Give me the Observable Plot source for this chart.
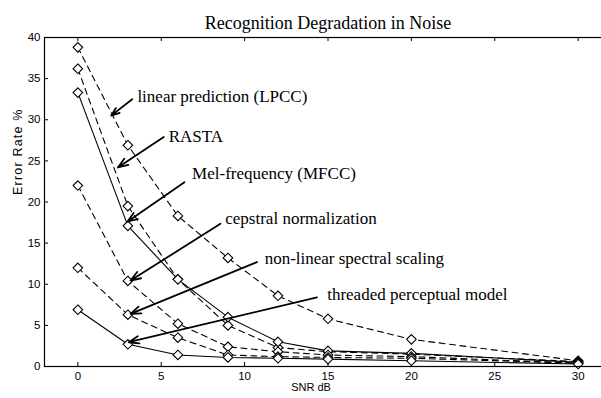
<!DOCTYPE html>
<html><head><meta charset="utf-8">
<script src="https://cdn.jsdelivr.net/npm/d3@7"></script>
<script src="https://cdn.jsdelivr.net/npm/@observablehq/plot@0.6"></script>
<style>body{margin:0;background:#fff}</style>
</head><body><div id="chart"></div>
<script>
// ---- data ----
const snrDb = [0, 3, 6, 9, 12, 15, 20, 30];
const seriesNames = [
  "linear prediction (LPCC)",
  "RASTA",
  "Mel-frequency (MFCC)",
  "cepstral normalization",
  "non-linear spectral scaling",
  "threaded perceptual model"
];
const lpcc      = [38.8, 26.9, 18.3, 13.2, 8.6, 5.8, 3.3, 0.7];
const rasta     = [36.2, 19.5, 10.6, 5.0, 2.3, 1.8, 1.5, 0.6];
const mfcc      = [33.3, 17.1, 10.6, 6.0, 3.0, 1.9, 1.6, 0.5];
const cepstral  = [22.0, 10.4, 5.2, 2.4, 1.8, 1.4, 1.2, 0.4];
const nonlinear = [12.0, 6.3, 3.5, 1.4, 1.2, 1.1, 1.0, 0.4];
const threaded  = [6.9, 2.7, 1.4, 1.1, 1.0, 0.9, 0.7, 0.3];

const xTicks = [0, 5, 10, 15, 20, 25, 30];
const yTicks = [0, 5, 10, 15, 20, 25, 30, 35, 40];
const titleText = "Recognition Degradation in Noise";
const xLabel = "SNR dB";
const yLabel = "Error Rate %";

// annotation anchors (data units: SNR dB, Error %)
const labelX = [3.57, 5.45, 6.85, 8.84, 11.2, 14.95];
const labelY = [32.8, 27.9, 23.4, 17.95, 13.1, 8.75];
const arrowTailX = [3.26, 5.15, 6.39, 8.55, 10.74, 14.34];
const arrowTailY = [32.5, 27.9, 22.4, 17.35, 12.7, 8.4];
const arrowTipX  = [2.0, 2.4, 2.97, 3.16, 3.16, 3.05];
const arrowTipY  = [30.5, 24.2, 17.6, 10.45, 6.4, 2.95];

// ---- build tables ----
const seriesValues = [lpcc, rasta, mfcc, cepstral, nonlinear, threaded];
const rows = seriesNames.flatMap((name, s) =>
  snrDb.map((x, i) => ({series: name, snr: x, err: seriesValues[s][i]})));
const dashedNames = new Set([seriesNames[0], seriesNames[1], seriesNames[3], seriesNames[4]]);
const ann = seriesNames.map((name, i) => ({
  text: name, lx: labelX[i], ly: labelY[i],
  x1: arrowTailX[i], y1: arrowTailY[i], x2: arrowTipX[i], y2: arrowTipY[i]
}));

const serif = "'Liberation Serif', 'Times New Roman', serif";
const sans = "'Liberation Sans', Arial, Helvetica, sans-serif";

const lineMarks = seriesNames.map(name => Plot.line(rows.filter(d => d.series === name), {
  x: "snr", y: "err", stroke: "black", strokeWidth: 1.1,
  strokeDasharray: dashedNames.has(name) ? "6,4.5" : null
}));

const chart = Plot.plot({
  width: 601, height: 398,
  marginLeft: 44, marginTop: 37, marginBottom: 32, marginRight: -10,
  x: {domain: [-2, 32], range: [44, 611]},
  y: {domain: [0, 40], range: [366, 37]},
  style: {fontFamily: sans, fontSize: "11.5px", color: "black", background: "white", overflow: "hidden"},
  marks: [
    Plot.axisX({ticks: xTicks, tickSize: 0, tickPadding: 5, label: null, fontSize: 11.5}),
    Plot.axisY({ticks: yTicks, tickSize: 0, tickPadding: 4, label: null, fontSize: 11.5}),
    Plot.tickX(xTicks, {x: d => d, insetTop: 325, stroke: "black"}),
    Plot.tickX(xTicks, {x: d => d, insetBottom: 325, stroke: "black"}),
    Plot.tickY(yTicks, {y: d => d, insetRight: 563, stroke: "black"}),
    ...lineMarks,
    Plot.dot(rows, {x: "snr", y: "err", symbol: "diamond2", r: 4.3, stroke: "black", strokeWidth: 1.1, fill: "white"}),
    Plot.arrow(ann, {x1: "x1", y1: "y1", x2: "x2", y2: "y2", stroke: "black", strokeWidth: 1.8, headLength: 9, headAngle: 40}),
    Plot.text(ann, {x: "lx", y: "ly", text: "text", textAnchor: "start", lineAnchor: "middle", fontFamily: serif, fontSize: 17}),
    Plot.text([titleText], {frameAnchor: "top", dy: -21, fontFamily: serif, fontSize: 18}),
    Plot.text([xLabel], {frameAnchor: "bottom", dx: -17, dy: 24, fontFamily: sans, fontSize: 11}),
    Plot.text([yLabel], {frameAnchor: "left", dx: -27, dy: -7, rotate: -90, fontFamily: sans, fontSize: 12.5, className: "ylab"}),
    Plot.frame({stroke: "black", strokeWidth: 1.2})
  ]
});
document.getElementById("chart").appendChild(chart);
d3.select(chart).selectAll(".ylab text").style("letter-spacing", "1.2px");
</script>
</body></html>
